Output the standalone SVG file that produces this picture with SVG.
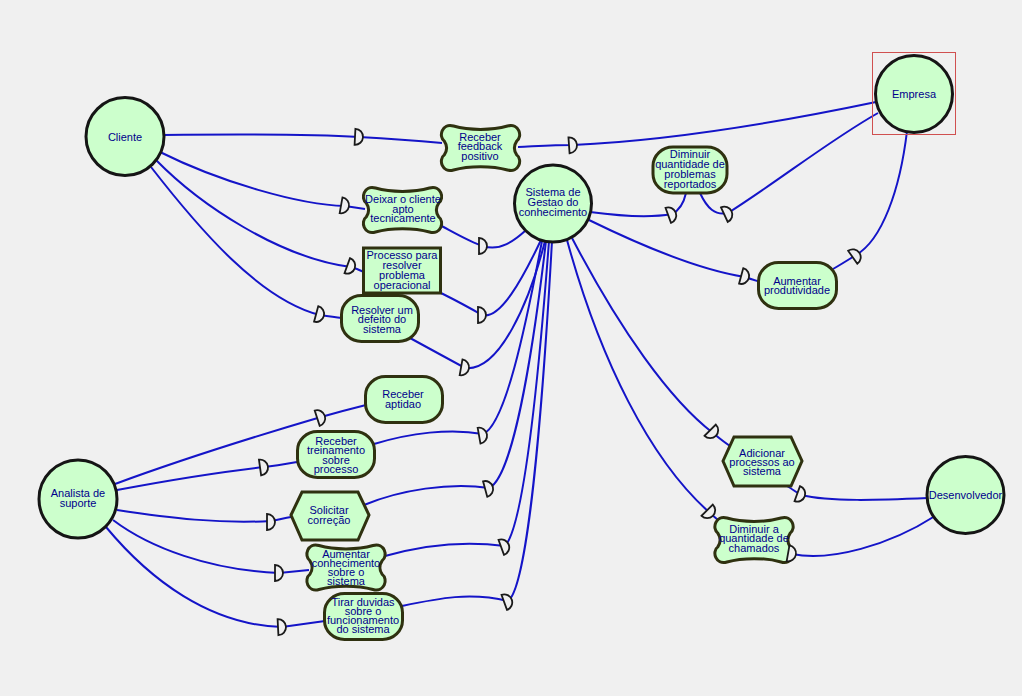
<svg xmlns="http://www.w3.org/2000/svg" xmlns:xlink="http://www.w3.org/1999/xlink" width="1022" height="696" viewBox="0 0 1022 696">
<defs>
<style>
.bg{fill:#f0f0f0}
.actor{fill:#ccffcc;stroke:#151515;stroke-width:3}
.el{fill:#ccffcc;stroke:#2f3110;stroke-width:3}
.t{font-family:"Liberation Sans",Arial,sans-serif;font-size:11px;fill:#00008b;text-anchor:middle}
.ln{fill:none;stroke:#1414c8;stroke-width:2}
.d{fill:#f0f0f0;stroke:#1a1a1a;stroke-width:1.8}
.sel{fill:none;stroke:#d05050;stroke-width:1}
</style>
<path id="sg" d="M11.5,1 C27,5.5 50,5.5 65.5,1 C77,-2.3 81,11.5 74.7,16.1 C71.6,20.7 71.6,25.3 74.7,29.9 C81,34.5 77,48.3 65.5,45 C50,40.5 27,40.5 11.5,45 C0,48.3 -3.9,34.5 2.3,29.9 C5.4,25.3 5.4,20.7 2.3,16.1 C-3.9,11.5 0,-2.3 11.5,1 Z"/>
<path id="D" d="M-4,-8 A8,8 0 0 1 -4,8 Z"/>
</defs>
<rect class="bg" x="0" y="0" width="1022" height="696"/>

<g id="connectors">
<path class="ln" d="M163,135 C250,134 310,134 359,137 C395,139 420,141 442,143"/>
<path class="ln" d="M518,147 C540,146 555,145 573,145 C680,140 790,120 876,102"/>
<path class="ln" d="M160,152 C220,182 300,205 345,206 C352,207 358,208 365,209"/>
<path class="ln" d="M438,224 C455,233 470,242 483,246 C500,252 515,240 525,231"/>
<path class="ln" d="M156,160 C200,205 280,258 351,267 C355,268 359,270 364,272"/>
<path class="ln" d="M441,293 C455,300 470,308 482,315 C500,320 522,280 541,240"/>
<path class="ln" d="M151,167 C200,230 260,300 320,315 C327,316 334,317 342,318"/>
<path class="ln" d="M410,338 C428,348 447,358 465,368 C500,372 530,300 545,241"/>
<path class="ln" d="M590,212 C620,216 650,218 672,214 C680,210 684,202 686,193"/>
<path class="ln" d="M700,193 C707,208 715,216 728,213 C780,180 830,140 878,113"/>
<path class="ln" d="M589,220 C640,245 700,270 745,277 C750,279 755,280 760,282"/>
<path class="ln" d="M833,269 C840,265 848,260 856,255 C882,240 900,190 907,131"/>
<path class="ln" d="M572,238 C620,330 670,400 713,433 C719,438 724,442 730,446"/>
<path class="ln" d="M787,486 C792,489 796,492 801,495 C830,502 880,500 928,498"/>
<path class="ln" d="M567,240 C600,360 650,460 710,513 C713,516 716,518 719,521"/>
<path class="ln" d="M790,553 L792,554 C830,562 890,545 935,516"/>
<path class="ln" d="M115,484 C180,460 260,435 321,417 C335,413 350,409 366,405"/>
<path class="ln" d="M117,490 C170,480 220,472 264,467 C275,466 286,464 297,462"/>
<path class="ln" d="M374,444 C410,433 450,428 483,434 C505,425 525,330 542,241"/>
<path class="ln" d="M117,510 C170,518 220,524 271,521 C278,520 284,518 291,517"/>
<path class="ln" d="M364,505 C400,490 450,482 489,488 C512,478 532,360 546,241"/>
<path class="ln" d="M113,520 C150,548 210,570 279,573 C289,572 299,571 309,570"/>
<path class="ln" d="M385,556 C420,546 460,540 505,546 C522,528 537,400 549,241"/>
<path class="ln" d="M106,527 C150,580 210,625 282,627 C296,625 310,623 325,621"/>
<path class="ln" d="M402,606 C440,598 470,592 508,601 C527,588 542,420 552,241"/>
</g>

<g id="cliente"><circle class="actor" cx="125" cy="136.5" r="39"/><text class="t" x="125" y="140.5">Cliente</text></g>
<g id="empresa"><rect class="sel" x="872.5" y="52.5" width="83" height="82"/><circle class="actor" cx="914" cy="94" r="38.5"/><text class="t" x="914" y="98">Empresa</text></g>
<g id="sistema"><circle class="actor" cx="553" cy="203.5" r="38.5"/><text class="t" x="553" y="196">Sistema de</text><text class="t" x="553" y="206">Gestao do</text><text class="t" x="553" y="216">conhecimento</text></g>
<g id="analista"><circle class="actor" cx="78" cy="499" r="39"/><text class="t" x="78" y="497">Analista de</text><text class="t" x="78" y="506.5">suporte</text></g>
<g id="desenvolvedor"><circle class="actor" cx="965.5" cy="495" r="38.5"/><text class="t" x="965.5" y="498.5">Desenvolvedor</text></g>

<g id="receber-feedback"><use href="#sg" class="el" x="442" y="125"/><text class="t" x="480" y="140.5">Receber</text><text class="t" x="480" y="150">feedback</text><text class="t" x="480" y="159.5">positivo</text></g>
<g id="deixar-cliente-apto"><use href="#sg" class="el" x="364" y="187"/><text class="t" x="403" y="203">Deixar o cliente</text><text class="t" x="403" y="212.5">apto</text><text class="t" x="403" y="222">tecnicamente</text></g>
<g id="processo-resolver"><rect class="el" x="363.5" y="248" width="77" height="45"/><text class="t" x="402" y="259">Processo para</text><text class="t" x="402" y="269">resolver</text><text class="t" x="402" y="278.5">problema</text><text class="t" x="402" y="289">operacional</text></g>
<g id="resolver-defeito"><rect class="el" x="341.5" y="295.5" width="77" height="46" rx="20" ry="19"/><text class="t" x="382" y="314">Resolver um</text><text class="t" x="382" y="323">defeito do</text><text class="t" x="382" y="332.5">sistema</text></g>
<g id="diminuir-problemas"><rect class="el" x="653" y="147" width="74" height="46" rx="20" ry="19"/><text class="t" x="690" y="158">Diminuir</text><text class="t" x="690" y="168">quantidade de</text><text class="t" x="690" y="178">problemas</text><text class="t" x="690" y="188">reportados</text></g>
<g id="aumentar-produtividade"><rect class="el" x="758.5" y="262.5" width="78" height="46" rx="20" ry="19"/><text class="t" x="797" y="284.5">Aumentar</text><text class="t" x="797" y="293.5">produtividade</text></g>
<g id="adicionar-processos"><polygon class="el" points="723,461 734,437 791,437 802,461 791,486 734,486"/><text class="t" x="762" y="456.5">Adicionar</text><text class="t" x="762" y="465.5">processos ao</text><text class="t" x="762" y="475">sistema</text></g>
<g id="diminuir-chamados"><use href="#sg" class="el" x="715.5" y="517"/><text class="t" x="754" y="533">Diminuir a</text><text class="t" x="754" y="542">quantidade de</text><text class="t" x="754" y="552">chamados</text></g>
<g id="receber-aptidao"><rect class="el" x="365.5" y="376.5" width="77" height="46" rx="20" ry="19"/><text class="t" x="403" y="398">Receber</text><text class="t" x="403" y="407.5">aptidao</text></g>
<g id="receber-treinamento"><rect class="el" x="297.5" y="431.5" width="77" height="46" rx="20" ry="19"/><text class="t" x="336" y="445">Receber</text><text class="t" x="336" y="454">treinamento</text><text class="t" x="336" y="463.5">sobre</text><text class="t" x="336" y="472.5">processo</text></g>
<g id="solicitar-correcao"><polygon class="el" points="291,515 302,492 358,492 369,515 358,540 302,540"/><text class="t" x="329" y="514">Solicitar</text><text class="t" x="329" y="524">correção</text></g>
<g id="aumentar-conhecimento"><use href="#sg" class="el" x="307.5" y="544.5"/><text class="t" x="346" y="557.5">Aumentar</text><text class="t" x="346" y="567">conhecimento</text><text class="t" x="346" y="576">sobre o</text><text class="t" x="346" y="585">sistema</text></g>
<g id="tirar-duvidas"><rect class="el" x="324.5" y="593.5" width="78" height="46" rx="20" ry="19"/><text class="t" x="363" y="605.5">Tirar duvidas</text><text class="t" x="363" y="614.5">sobre o</text><text class="t" x="363" y="624">funcionamento</text><text class="t" x="363" y="633">do sistema</text></g>

<g id="dependency-markers">
<use href="#D" class="d" transform="translate(359,137) rotate(3)"/>
<use href="#D" class="d" transform="translate(573,145) rotate(-4)"/>
<use href="#D" class="d" transform="translate(345,206) rotate(10)"/>
<use href="#D" class="d" transform="translate(483,246) rotate(0)"/>
<use href="#D" class="d" transform="translate(351,267) rotate(20)"/>
<use href="#D" class="d" transform="translate(482,315) rotate(0)"/>
<use href="#D" class="d" transform="translate(320,315) rotate(15)"/>
<use href="#D" class="d" transform="translate(465,368) rotate(10)"/>
<use href="#D" class="d" transform="translate(672,214) rotate(-20)"/>
<use href="#D" class="d" transform="translate(728,213) rotate(-25)"/>
<use href="#D" class="d" transform="translate(745,277) rotate(15)"/>
<use href="#D" class="d" transform="translate(856,255) rotate(-35)"/>
<use href="#D" class="d" transform="translate(713,433) rotate(45)"/>
<use href="#D" class="d" transform="translate(801,495) rotate(20)"/>
<use href="#D" class="d" transform="translate(710,513) rotate(45)"/>
<use href="#D" class="d" transform="translate(792,554) rotate(10)"/>
<use href="#D" class="d" transform="translate(321,417) rotate(-18)"/>
<use href="#D" class="d" transform="translate(264,467) rotate(-8)"/>
<use href="#D" class="d" transform="translate(483,435) rotate(-10)"/>
<use href="#D" class="d" transform="translate(271,522) rotate(0)"/>
<use href="#D" class="d" transform="translate(489,488) rotate(-15)"/>
<use href="#D" class="d" transform="translate(279,573) rotate(0)"/>
<use href="#D" class="d" transform="translate(505,546) rotate(-20)"/>
<use href="#D" class="d" transform="translate(282,627) rotate(-3)"/>
<use href="#D" class="d" transform="translate(508,601) rotate(-20)"/>
</g>
</svg>
